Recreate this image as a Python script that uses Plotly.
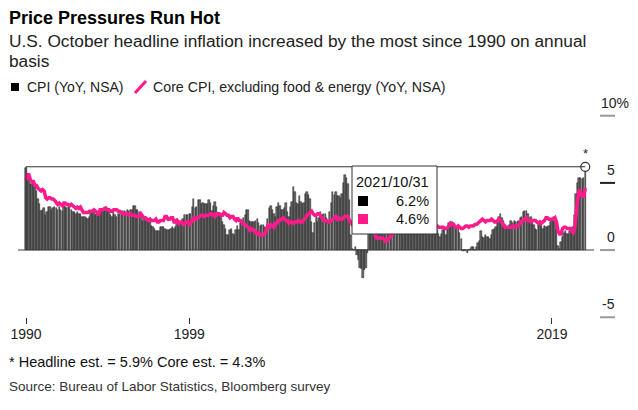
import pandas as pd
import plotly.graph_objects as go

# CPI YoY % (NSA), monthly, Dec 1990 .. Oct 2021
cpi = (
    [6.1]
    + [5.7, 5.3, 4.9, 4.9, 5.0, 4.7, 4.4, 3.8, 3.4, 2.9, 3.0, 3.1]    # 1991
    + [2.6, 2.8, 3.2, 3.2, 3.0, 3.1, 3.2, 3.1, 3.0, 3.2, 3.0, 2.9]    # 1992
    + [3.3, 3.2, 3.1, 3.2, 3.2, 3.0, 2.8, 2.8, 2.7, 2.8, 2.7, 2.7]    # 1993
    + [2.5, 2.5, 2.5, 2.4, 2.3, 2.5, 2.8, 2.9, 3.0, 2.6, 2.7, 2.7]    # 1994
    + [2.8, 2.9, 2.9, 3.1, 3.2, 3.0, 2.8, 2.6, 2.5, 2.8, 2.6, 2.5]    # 1995
    + [2.7, 2.7, 2.8, 2.9, 2.9, 2.8, 3.0, 2.9, 3.0, 3.0, 3.3, 3.3]    # 1996
    + [3.0, 3.0, 2.8, 2.5, 2.2, 2.3, 2.2, 2.2, 2.2, 2.1, 1.8, 1.7]    # 1997
    + [1.6, 1.4, 1.4, 1.4, 1.7, 1.7, 1.7, 1.6, 1.5, 1.5, 1.5, 1.6]    # 1998
    + [1.7, 1.6, 1.7, 2.3, 2.1, 2.0, 2.1, 2.3, 2.6, 2.6, 2.6, 2.7]    # 1999
    + [2.7, 3.2, 3.8, 3.1, 3.2, 3.7, 3.7, 3.4, 3.5, 3.4, 3.4, 3.4]    # 2000
    + [3.7, 3.5, 2.9, 3.3, 3.6, 3.2, 2.7, 2.7, 2.6, 2.1, 1.9, 1.6]    # 2001
    + [1.1, 1.1, 1.5, 1.6, 1.2, 1.1, 1.5, 1.8, 1.5, 2.0, 2.2, 2.4]    # 2002
    + [2.6, 3.0, 3.0, 2.2, 2.1, 2.1, 2.1, 2.2, 2.3, 2.0, 1.8, 1.9]    # 2003
    + [1.9, 1.7, 1.7, 2.3, 3.1, 3.3, 3.0, 2.7, 2.5, 3.2, 3.5, 3.3]    # 2004
    + [3.0, 3.0, 3.1, 3.5, 2.8, 2.5, 3.2, 3.6, 4.7, 4.3, 3.5, 3.4]    # 2005
    + [4.0, 3.6, 3.4, 3.5, 4.2, 4.3, 4.1, 3.8, 2.1, 1.3, 2.0, 2.5]    # 2006
    + [2.1, 2.4, 2.8, 2.6, 2.7, 2.7, 2.4, 2.0, 2.8, 3.5, 4.3, 4.1]    # 2007
    + [4.3, 4.0, 4.0, 3.9, 4.2, 5.0, 5.6, 5.4, 4.9, 3.7, 1.1, 0.1]    # 2008
    + [0.0, 0.2, -0.4, -0.7, -1.3, -1.4, -2.1, -1.5, -1.3, -0.2, 1.8, 2.7]  # 2009
    + [2.6, 2.1, 2.3, 2.2, 2.0, 1.1, 1.2, 1.1, 1.1, 1.2, 1.1, 1.5]    # 2010
    + [1.6, 2.1, 2.7, 3.2, 3.6, 3.6, 3.6, 3.8, 3.9, 3.5, 3.4, 3.0]    # 2011
    + [2.9, 2.9, 2.7, 2.3, 1.7, 1.7, 1.4, 1.7, 2.0, 2.2, 1.8, 1.7]    # 2012
    + [1.6, 2.0, 1.5, 1.1, 1.4, 1.8, 2.0, 1.5, 1.2, 1.0, 1.2, 1.5]    # 2013
    + [1.6, 1.1, 1.5, 2.0, 2.1, 2.1, 2.0, 1.7, 1.7, 1.7, 1.3, 0.8]    # 2014
    + [-0.1, 0.0, -0.1, -0.2, 0.0, 0.1, 0.2, 0.2, 0.0, 0.2, 0.5, 0.7]  # 2015
    + [1.4, 1.0, 0.9, 1.1, 1.0, 1.0, 0.8, 1.1, 1.5, 1.6, 1.7, 2.1]    # 2016
    + [2.5, 2.7, 2.4, 2.2, 1.9, 1.6, 1.7, 1.9, 2.2, 2.0, 2.2, 2.1]    # 2017
    + [2.1, 2.2, 2.4, 2.5, 2.8, 2.9, 2.9, 2.7, 2.3, 2.5, 2.2, 1.9]    # 2018
    + [1.6, 1.5, 1.9, 2.0, 1.8, 1.6, 1.8, 1.7, 1.7, 1.8, 2.1, 2.3]    # 2019
    + [2.5, 2.3, 1.5, 0.3, 0.1, 0.6, 1.0, 1.3, 1.4, 1.2, 1.2, 1.4]    # 2020
    + [1.4, 1.7, 2.6, 4.2, 5.0, 5.4, 5.4, 5.3, 5.4, 6.2]              # 2021
)

# Core CPI YoY % (NSA), same months
core = (
    [5.2]
    + [5.6, 5.6, 5.2, 5.1, 5.1, 4.8, 4.8, 4.6, 4.5, 4.4, 4.5, 4.4]    # 1991
    + [3.9, 3.8, 3.9, 3.9, 3.8, 3.8, 3.7, 3.5, 3.4, 3.5, 3.4, 3.3]    # 1992
    + [3.5, 3.5, 3.4, 3.4, 3.3, 3.4, 3.3, 3.2, 3.1, 3.2, 3.1, 3.2]    # 1993
    + [2.9, 2.8, 2.8, 2.8, 2.8, 2.9, 2.9, 2.9, 3.0, 2.9, 2.8, 2.6]    # 1994
    + [3.0, 3.0, 3.0, 3.1, 3.1, 3.0, 3.0, 2.9, 2.9, 3.0, 3.0, 3.0]    # 1995
    + [2.9, 2.9, 2.8, 2.7, 2.7, 2.7, 2.7, 2.6, 2.7, 2.6, 2.6, 2.6]    # 1996
    + [2.5, 2.5, 2.5, 2.7, 2.5, 2.4, 2.4, 2.3, 2.2, 2.3, 2.2, 2.2]    # 1997
    + [2.2, 2.3, 2.1, 2.1, 2.2, 2.2, 2.2, 2.5, 2.5, 2.3, 2.3, 2.4]    # 1998
    + [2.4, 2.1, 2.1, 2.2, 2.0, 2.1, 2.1, 1.9, 2.0, 2.1, 2.1, 1.9]    # 1999
    + [2.0, 2.2, 2.4, 2.3, 2.4, 2.4, 2.5, 2.6, 2.6, 2.5, 2.6, 2.6]    # 2000
    + [2.6, 2.7, 2.7, 2.6, 2.5, 2.7, 2.7, 2.7, 2.6, 2.6, 2.8, 2.7]    # 2001
    + [2.6, 2.6, 2.4, 2.5, 2.5, 2.3, 2.2, 2.4, 2.2, 2.2, 2.0, 1.9]    # 2002
    + [1.9, 1.8, 1.7, 1.5, 1.6, 1.5, 1.5, 1.3, 1.2, 1.3, 1.1, 1.1]    # 2003
    + [1.1, 1.2, 1.6, 1.8, 1.7, 1.9, 1.8, 1.7, 2.0, 2.0, 2.2, 2.2]    # 2004
    + [2.3, 2.4, 2.3, 2.2, 2.2, 2.0, 2.1, 2.1, 2.0, 2.1, 2.1, 2.2]    # 2005
    + [2.1, 2.1, 2.1, 2.3, 2.4, 2.6, 2.7, 2.8, 2.9, 2.7, 2.6, 2.6]    # 2006
    + [2.7, 2.7, 2.5, 2.3, 2.2, 2.2, 2.2, 2.1, 2.1, 2.2, 2.3, 2.4]    # 2007
    + [2.5, 2.3, 2.4, 2.3, 2.3, 2.4, 2.5, 2.5, 2.5, 2.2, 2.0, 1.8]    # 2008
    + [1.7, 1.8, 1.8, 1.9, 1.8, 1.7, 1.5, 1.4, 1.5, 1.7, 1.7, 1.8]    # 2009
    + [1.6, 1.3, 1.1, 0.9, 0.9, 0.9, 0.9, 0.9, 0.8, 0.6, 0.8, 0.8]    # 2010
    + [1.0, 1.1, 1.2, 1.3, 1.5, 1.6, 1.8, 2.0, 2.0, 2.1, 2.2, 2.2]    # 2011
    + [2.3, 2.2, 2.3, 2.3, 2.3, 2.2, 2.1, 1.9, 2.0, 2.0, 1.9, 1.9]    # 2012
    + [1.9, 2.0, 1.9, 1.7, 1.7, 1.6, 1.7, 1.8, 1.7, 1.7, 1.7, 1.7]    # 2013
    + [1.6, 1.6, 1.7, 1.8, 2.0, 1.9, 1.9, 1.7, 1.7, 1.8, 1.7, 1.6]    # 2014
    + [1.6, 1.7, 1.8, 1.8, 1.7, 1.8, 1.8, 1.8, 1.9, 1.9, 2.0, 2.1]    # 2015
    + [2.2, 2.3, 2.2, 2.1, 2.2, 2.2, 2.2, 2.3, 2.2, 2.1, 2.1, 2.2]    # 2016
    + [2.3, 2.2, 2.0, 1.9, 1.7, 1.7, 1.7, 1.7, 1.7, 1.8, 1.7, 1.8]    # 2017
    + [1.8, 1.8, 2.1, 2.1, 2.2, 2.3, 2.4, 2.2, 2.2, 2.1, 2.2, 2.2]    # 2018
    + [2.2, 2.1, 2.0, 2.1, 2.0, 2.1, 2.2, 2.4, 2.4, 2.3, 2.3, 2.3]    # 2019
    + [2.3, 2.4, 2.1, 1.4, 1.2, 1.2, 1.6, 1.7, 1.7, 1.6, 1.6, 1.6]    # 2020
    + [1.4, 1.3, 1.6, 3.0, 3.8, 4.5, 4.3, 4.0, 4.0, 4.6]              # 2021
)

dates = pd.date_range("1990-12-01", periods=len(cpi), freq="MS") + pd.offsets.MonthEnd(0)

x_tick_vals = ["1990-12-31", "1999-12-31", "2019-12-31"]
x_tick_text = ["1990", "1999", "2019"]
y_ticks = [-5, 0, 5, 10]
y_tick_text = ["-5", "0", "5", "10%"]

TITLE = "Price Pressures Run Hot"
SUB1 = "U.S. October headline inflation increased by the most since 1990 on annual"
SUB2 = "basis"
LEG_CPI = "CPI (YoY, NSA)"
LEG_CORE = "Core CPI, excluding food & energy (YoY, NSA)"
NOTE = "* Headline est. = 5.9% Core est. = 4.3%"
SOURCE = "Source: Bureau of Labor Statistics, Bloomberg survey"

PINK = "#ff1a8c"
FONT = "Liberation Sans"

# the page body adds an 8px margin, so the figure is drawn 16px smaller
PAGE_W, PAGE_H, OFF = 638, 410, 8
W, H = PAGE_W - 2 * OFF, PAGE_H - 2 * OFF

# plot area in page pixels
L, R, T, B = 18, 594, 109, 324


def px(x):
    return (x - L) / (R - L)


def py(y):
    return (B - y) / (B - T)


def label(x, y, text, size, color="#222", anchor="left", **kw):
    return dict(x=px(x), y=py(y), xref="paper", yref="paper", xanchor=anchor,
                yanchor="middle", text=text, showarrow=False,
                font=dict(size=size, color=color), **kw)


fig = go.Figure()

fig.add_trace(go.Bar(
    x=dates, y=cpi,
    marker=dict(color="#6a6a6a", line=dict(color="#1e1e1e", width=0.5)),
    showlegend=False, hoverinfo="skip",
))

fig.add_trace(go.Scatter(
    x=dates, y=core, mode="lines",
    line=dict(color=PINK, width=3.5),
    showlegend=False, hoverinfo="skip",
))

# crosshair on the latest reading
fig.add_shape(type="line", xref="x", yref="y", x0=dates[0], x1=dates[-1],
              y0=cpi[-1], y1=cpi[-1], line=dict(color="#333", width=1), layer="above")
fig.add_shape(type="line", xref="x", yref="y", x0=dates[0], x1=dates[0],
              y0=0, y1=cpi[-1], line=dict(color="#333", width=1), layer="above")

fig.add_trace(go.Scatter(
    x=[dates[-1]], y=[cpi[-1]], mode="markers",
    marker=dict(size=9, color="white", line=dict(color="#333", width=1.2)),
    showlegend=False, hoverinfo="skip", cliponaxis=False,
))

ann = []
ann.append(dict(x=dates[-1], y=cpi[-1], xref="x", yref="y", text="*", showarrow=False,
                yanchor="middle", yshift=13, font=dict(size=13, color="#222")))

# tooltip box
fig.add_shape(type="rect", xref="paper", yref="paper",
              x0=px(352), x1=px(437), y0=py(234), y1=py(166),
              fillcolor="white", line=dict(color="#333", width=1), layer="above")
fig.add_shape(type="rect", xref="paper", yref="paper",
              x0=px(358), x1=px(368), y0=py(206), y1=py(196),
              fillcolor="black", line=dict(width=0), layer="above")
fig.add_shape(type="rect", xref="paper", yref="paper",
              x0=px(358), x1=px(368), y0=py(224), y1=py(214),
              fillcolor=PINK, line=dict(width=0), layer="above")
ann.append(label(431, 182, dates[-1].strftime("%Y/%m/%d"), 14.5, "#111", "right"))
ann.append(label(431, 201, f"{cpi[-1]}%", 14.5, "#111", "right"))
ann.append(label(431, 219, f"{core[-1]}%", 14.5, "#111", "right"))

# right-hand y labels with short rules
for v, t in zip(y_ticks, y_tick_text):
    fig.add_shape(type="line", xref="paper", yref="y", x0=px(600), x1=px(615),
                  y0=v, y1=v, line=dict(color="#999" if v != 5 else "#222", width=2))
    a = dict(y=v, xref="paper", yref="y", yanchor="middle", yshift=13, text=t,
             showarrow=False, font=dict(size=14, color="#222"))
    if t.endswith("%"):
        a.update(x=px(599), xanchor="left")
    else:
        a.update(x=px(617), xanchor="right")
    ann.append(a)

# header
ann.append(label(7, 18, f"<b>{TITLE}</b>", 18, "#000"))
ann.append(label(7, 41, SUB1, 17.3))
ann.append(label(7, 61, SUB2, 17.3))

# legend
fig.add_shape(type="rect", xref="paper", yref="paper",
              x0=px(11), x1=px(19), y0=py(91), y1=py(83),
              fillcolor="black", line=dict(width=0))
ann.append(label(25, 87, LEG_CPI, 14))
fig.add_shape(type="line", xref="paper", yref="paper",
              x0=px(135), x1=px(146), y0=py(93), y1=py(81),
              line=dict(color=PINK, width=3))
ann.append(label(151, 87, LEG_CORE, 14.2))

# footer
ann.append(label(7, 362, NOTE, 14.5, "#111"))
ann.append(label(7, 386, SOURCE, 13.5, "#333"))

fig.update_layout(
    width=W, height=H,
    margin=dict(l=L - OFF, r=PAGE_W - OFF - R, t=T - OFF, b=PAGE_H - OFF - B),
    paper_bgcolor="white", plot_bgcolor="white",
    bargap=0,
    font=dict(family=FONT, color="#222"),
    annotations=ann,
    xaxis=dict(
        range=["1990-07-23", "2022-04-25"],
        tickvals=x_tick_vals, ticktext=x_tick_text,
        ticks="inside", ticklen=6, tickcolor="#333", tickwidth=1,
        showgrid=False, showline=False, zeroline=False, automargin=False,
        tickfont=dict(size=14, color="#222"),
    ),
    yaxis=dict(
        range=[-5.5, 10.5], automargin=False,
        showticklabels=False, showgrid=False, ticks="",
        zeroline=True, zerolinecolor="#a0a0a0", zerolinewidth=2,
    ),
)

fig.write_html("out.html")
